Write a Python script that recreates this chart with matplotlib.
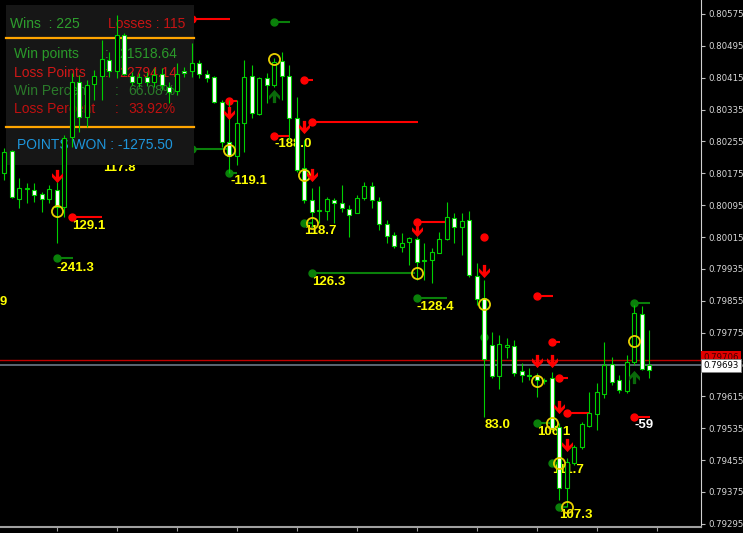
import numpy as np
import matplotlib
matplotlib.use("Agg")
import matplotlib.pyplot as plt
from matplotlib.patches import Rectangle
from matplotlib.path import Path

# --- candles (OHLC) ---
opens = [.80176, .80231, .80111, .80136, .80133, .80123, .80111, .80133, .80090, .80266,
         .80404, .80316, .80399, .80419, .80459, .80432, .80522, .80419, .80402, .80417,
         .80404, .80424, .80392, .80382, .80432, .80432, .80452, .80424, .80417, .80354,
         .80254, .80218, .80301, .80419, .80324, .80414, .80397, .80457, .80419, .80314,
         .80188, .80108, .80080, .80080, .80108, .80101, .80085, .80075, .80113, .80143,
         .80106, .80048, .80020, .79990, .80003, .80010, .79955, .79957, .79975, .80010,
         .80063, .80040, .80058, .79917, .79862, .79744, .79666, .79739, .79742, .79679,
         .79669, .79666, .79654, .79661, .79538, .79385, .79448, .79488, .79541, .79571,
         .79621, .79696, .79656, .79629, .79701, .79822, .79694]
highs = [.80239, .80234, .80163, .80151, .80151, .80128, .80146, .80153, .80271, .80427,
         .80422, .80409, .80434, .80510, .80480, .80572, .80527, .80429, .80427, .80429,
         .80439, .80439, .80404, .80452, .80442, .80502, .80459, .80434, .80419, .80359,
         .80359, .80359, .80459, .80447, .80417, .80427, .80464, .80480, .80447, .80367,
         .80259, .80138, .80143, .80116, .80113, .80146, .80095, .80121, .80153, .80153,
         .80116, .80058, .80028, .80025, .80015, .80015, .80000, .79988, .80028, .80103,
         .80075, .80075, .80080, .79950, .79907, .79777, .79769, .79762, .79757, .79699,
         .79686, .79674, .79661, .79676, .79548, .79460, .79493, .79551, .79626, .79649,
         .79752, .79714, .79669, .79719, .79844, .79842, .79782]
lows = [.80158, .80113, .80088, .80101, .80103, .80078, .80101, .80000, .80065, .80241,
        .80279, .80291, .80359, .80359, .80417, .80414, .80422, .80397, .80392, .80394,
        .80392, .80384, .80352, .80372, .80417, .80417, .80414, .80404, .80352, .80241,
        .80176, .80196, .80229, .80314, .80321, .80352, .80392, .80359, .80259, .80178,
        .80101, .80040, .80050, .80058, .80050, .80078, .80015, .80075, .80108, .80088,
        .80033, .80000, .79988, .79978, .79945, .79907, .79907, .79900, .79975, .80008,
        .80000, .79970, .79915, .79844, .79563, .79661, .79634, .79711, .79666, .79651,
        .79656, .79614, .79646, .79531, .79355, .79337, .79443, .79483, .79538, .79531,
        .79611, .79644, .79624, .79624, .79694, .79681, .79661]
closes = [.80229, .80116, .80138, .80138, .80121, .80111, .80136, .80090, .80264, .80404,
          .80316, .80397, .80419, .80462, .80432, .80522, .80424, .80404, .80417, .80404,
          .80422, .80397, .80379, .80424, .80427, .80452, .80424, .80414, .80354, .80254,
          .80218, .80301, .80417, .80326, .80414, .80397, .80454, .80419, .80314, .80183,
          .80108, .80078, .80083, .80111, .80101, .80088, .80070, .80113, .80143, .80108,
          .80048, .80018, .79993, .80000, .80013, .79952, .79957, .79978, .80010, .80065,
          .80040, .80055, .79920, .79860, .79709, .79666, .79747, .79744, .79674, .79669,
          .79666, .79656, .79656, .79536, .79385, .79450, .79488, .79546, .79573, .79626,
          .79694, .79651, .79631, .79701, .79824, .79684, .79681]

# --- trade markers ---
red_bar = [25, 30, 40, 41, 36, 9, 55, 64, 71, 73, 74, 75, 84]
red_end = [30.1, 31.0, 41.2, 55.2, 38.1, 13.0, 58.8, 64.0, 73.2, 74.1, 75.2, 78.0, 86.1]
red_price = [.80562, .80357, .80409, .80304, .80269, .80065, .80053, .80015, .79867,
             .79752, .79661, .79573, .79563]

green_bar = [36, 25, 30, 7, 40, 41, 55, 71, 73, 74, 84, 64]
green_end = [38.1, 30.0, 31.0, 9.2, 41.0, 54.8, 59.0, 73.0, 74.0, 75.0, 86.1, 64.0]
green_price = [.80555, .80236, .80176, .79962, .80050, .79925, .79862, .79548, .79448,
               .79337, .79849, .79764]

circle_bar = [7, 30, 36, 40, 41, 55, 64, 71, 73, 74, 75, 84]
circle_price = [.80080, .80234, .80462, .80171, .80050, .79925, .79847, .79654, .79548,
                .79448, .79337, .79754]

sell_bar = [7, 30, 40, 41, 55, 64, 71, 73, 74, 75]
sell_price = [.80168, .80326, .80291, .80171, .80033, .79930, .79704, .79704, .79588, .79493]

buy_bar = [36, 84]
buy_price = [.80369, .79664]

label_text = ['117.8', '129.1', '-241.3', '-119.1', '-188.0', '118.7', '126.3', '-128.4',
              '83.0', '106.1', '111.7', '107.3']
label_bar = [13.2, 9, 7, 30.1, 36, 40, 41, 55, 64, 71, 73, 74]
label_price = [.80188, .80043, .79937, .80156, .80249, .80030, .79902, .79839, .79543,
               .79526, .79430, .79317]

bid, ask_line = 0.79706, 0.79693
time_labels = ['12 Dec 04:00', '12 Dec 08:00', '12 Dec 12:00', '12 Dec 16:00', '12 Dec 20:00',
               '13 Dec 00:00', '13 Dec 04:00', '13 Dec 08:00', '13 Dec 12:00', '13 Dec 16:00',
               '13 Dec 20:00']

W, H = 743, 533
fig = plt.figure(figsize=(W / 100, H / 100), dpi=100, facecolor='black')
ax = fig.add_axes([0, 6 / H, 701 / W, 527 / H], facecolor='black')


def fx(px):
    return px / W


def fy(py):
    return 1 - py / H


WICK = '#00d000'
o, h, l, c = map(np.array, (opens, highs, lows, closes))
x = np.arange(len(o))
up = c >= o

ax.vlines(x, l, h, color=WICK, lw=0.8, zorder=4)
ax.bar(x, np.maximum(np.abs(c - o), 0.00001), bottom=np.minimum(o, c), width=0.5,
       color=np.where(up, 'black', 'white'), edgecolor=WICK, linewidth=0.8, zorder=4.5)

# trade lines + dots
ax.hlines(red_price, red_bar, red_end, color='#ff0000', lw=1.5, zorder=1)
ax.plot(red_bar, red_price, 'o', color='#ff0000', ms=5, zorder=1.5)
ax.hlines(green_price, green_bar, green_end, color='#0a800a', lw=1.5, zorder=1)
ax.plot(green_bar, green_price, 'o', color='#0a800a', ms=5, zorder=1.5)

ax.plot(circle_bar, circle_price, 'o', mfc='none', mec='#e8d000', mew=1.3, ms=8, zorder=5)

down_arrow = Path([(-0.15, 0.6), (0.15, 0.6), (0.15, -0.05), (0.5, 0.3), (0.5, -0.05),
                   (0, -0.6), (-0.5, -0.05), (-0.5, 0.3), (-0.15, -0.05), (-0.15, 0.6)])
up_arrow = Path([(vx, -vy) for vx, vy in down_arrow.vertices])
ax.plot(sell_bar, sell_price, ls='none', marker=down_arrow, color='#ff0000', mew=0, ms=9.5, zorder=5)
ax.plot(buy_bar, buy_price, ls='none', marker=up_arrow, color='#0a6a0a', mew=0, ms=9.5, zorder=5)

lab_font = dict(family=['Liberation Sans Narrow', 'Liberation Sans', 'DejaVu Sans'],
                fontweight='bold', fontsize=9.5, va='center', zorder=1.2)
for t, b, p in zip(label_text, label_bar, label_price):
    ax.text(b, p, t, color='#ffff00', ha='left', **lab_font)
ax.text(0.36, .79852, '120.9', color='#ffff00', ha='right', clip_on=True, **lab_font)
ax.text(84, .79543, '-59', color='white', ha='left', **lab_font)

# bid / ask lines
ax.axhline(bid, color='#c00000', lw=1, zorder=3)
ax.axhline(ask_line, color='#6c7886', lw=1.2, zorder=3)
tag = dict(transform=ax.get_yaxis_transform(), fontsize=6.2, family='DejaVu Sans',
           va='center', ha='left', clip_on=False, zorder=6)
ax.text(1.003, bid + 0.00006, f'{bid:.5f}', color='#400000',
        bbox=dict(boxstyle='square,pad=0.25', fc='#e00000', ec='none'), **tag)
ax.text(1.003, ask_line, f'{ask_line:.5f}', color='black',
        bbox=dict(boxstyle='square,pad=0.25', fc='white', ec='#808080', lw=0.6), **tag)

# info panel
ax.add_patch(Rectangle((fx(6), fy(165)), fx(188), 160 / H, transform=fig.transFigure,
                       facecolor='#161616', edgecolor='none', clip_on=False, zorder=2))
for yy in (38, 127):
    ax.plot([fx(6), fx(194)], [fy(yy), fy(yy)], color='#ffa500', lw=1.6,
            transform=fig.transFigure, clip_on=False, zorder=2.5)
pfont = dict(transform=fig.transFigure, family=['Liberation Sans', 'DejaVu Sans'],
             fontsize=10, va='baseline', ha='left', zorder=2.5)
ax.text(fx(10), fy(28), 'Wins  : 225', color='#2ea02e', **pfont)
ax.text(fx(108), fy(28), 'Losses : 115', color='#c81414', **pfont)
ax.text(fx(14), fy(58), 'Win points', color='#2a9a2a', **pfont)
ax.text(fx(105), fy(58), ':', color='#2a9a2a', **pfont)
ax.text(fx(119), fy(58), '21518.64', color='#2a9a2a', **pfont)
ax.text(fx(14), fy(77), 'Loss Points', color='#d01818', **pfont)
ax.text(fx(105), fy(77), ':', color='#d01818', **pfont)
ax.text(fx(119), fy(77), '22794.14', color='#d01818', **pfont)
ax.text(fx(14), fy(95), 'Win Percent', color='#2a7a2a', **pfont)
ax.text(fx(115), fy(95), ':', color='#2a7a2a', **pfont)
ax.text(fx(128), fy(95), '66.08%', color='#2a7a2a', **pfont)
ax.text(fx(14), fy(113), 'Loss Percent', color='#c01010', **pfont)
ax.text(fx(115), fy(113), ':', color='#c01010', **pfont)
ax.text(fx(128), fy(113), '33.92%', color='#c01010', **pfont)
ax.text(fx(17), fy(149), 'POINTS WON : -1275.50', color='#1e96dc', **pfont)

# axes
ax.set_xlim(-0.573, 92.9)
ax.set_ylim(0.79287, 0.80610)
ax.yaxis.tick_right()
yt = 0.79295 + 0.0008 * np.arange(17)
ax.set_yticks(yt)
ax.set_yticklabels([f'{v:.5f}' for v in yt], family='DejaVu Sans')
ax.tick_params(axis='y', length=3, color='#c0c0c0', labelcolor='#d8d8d8', labelsize=6.2, pad=2)
xt = 7 + 8 * np.arange(len(time_labels))
ax.set_xticks(xt)
ax.set_xticklabels(time_labels, ha='left', family='DejaVu Sans')
ax.tick_params(axis='x', length=3, color='#a0a0a0', labelcolor='#d8d8d8', labelsize=6.2, pad=1)
ax.annotate('12 Dec 2022', xy=(-1.0, 0), xycoords=('data', 'axes fraction'), xytext=(0, -4.3),
            textcoords='offset points', va='top', ha='left', fontsize=6.2, color='#d8d8d8',
            annotation_clip=False)
for s in ('top', 'left'):
    ax.spines[s].set_visible(False)
ax.spines['right'].set_color('#d0d0d0')
ax.spines['bottom'].set_color('#a0a0a0')
ax.spines['bottom'].set_linewidth(1.5)

fig.savefig('out.png', dpi=100, facecolor='black')
